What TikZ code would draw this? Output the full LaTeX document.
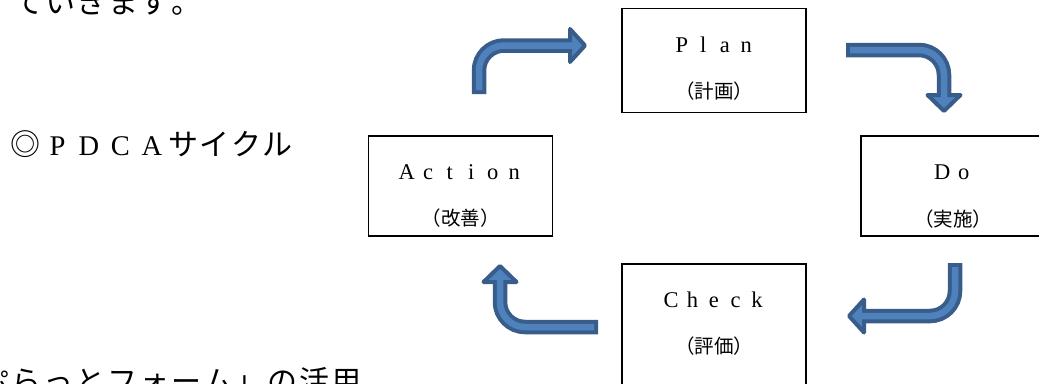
\documentclass[tikz,border=0pt]{standalone}
\usepackage{fontspec}
\setmainfont{Liberation Serif}
\newfontfamily\cjk{Noto Sans CJK JP}
\usepackage{tikz}
\usetikzlibrary{calc}

\definecolor{arrowdark}{RGB}{56,93,138}
\definecolor{arrowlight}{RGB}{79,129,189}

\makeatletter
\newcommand\fw[2]{\@tfor\fw@c:=#2\do{\makebox[#1]{\fw@c}}}
\makeatother

\newcommand\bentarrow[4]{%
  \draw[arrowbody] (#1) -- (#2) -- (#3);
  \filldraw[arrowhead] ($(#3)!16.5pt!90:(#4)$) -- (#4) -- ($(#3)!16.5pt!-90:(#4)$) -- cycle;
  \draw[arrowcore] ($(#1)!4pt!(#2)$) -- (#2) -- ($(#3)!5pt!(#4)$);
}

\begin{document}
\begin{tikzpicture}[x = 1pt, y = -1pt,
    box/.style = {draw, line width = 1.1pt, minimum width = 184pt,
        minimum height = 100pt, inner sep = 0pt},
    boxtitle/.style = {inner sep = 0pt, font = \fontsize{22.5}{22}\selectfont},
    boxsub/.style = {inner sep = 0pt, font = \cjk\fontsize{19.5}{20}\selectfont},
    bodytext/.style = {inner sep = 0pt, anchor = base west,
        font = \cjk\fontsize{30}{30}\selectfont},
    arrowbody/.style = {arrowdark, line width = 14.5pt, rounded corners = 25pt},
    arrowcore/.style = {arrowlight, line width = 6.5pt, rounded corners = 25pt},
    arrowhead/.style = {fill = arrowlight, draw = arrowdark, line width = 4pt,
        line join = round}]
    \useasboundingbox (0, 0) rectangle (1039, 383);

    \node[bodytext] (intro) at (13, 13.5) {\fw{31.5pt}{ていきます。}};
    \node[bodytext] (pdca) at (10, 155) {\fw{31.5pt}{◎}{\rmfamily
        \fontsize{28.5}{30}\selectfont\fw{31.5pt}{PDCA}}\fw{31.5pt}{サイクル}};
    \node[bodytext] (platform) at (-22, 392) {\fw{32pt}{ぷらっとフォーム」の活用}};

    \node[box, minimum height = 104pt] (plan) at (714, 60.5) {};
    \node[box] (do) at (953, 186) {};
    \node[box, minimum height = 130pt] (check) at (714, 329) {};
    \node[box] (action) at (460.5, 186) {};

    \node[boxtitle] (plantitle) at ([yshift = -36.5pt] plan.north) {\fw{21.5pt}{Plan}};
    \node[boxsub] (plansub) at ([yshift = -83pt] plan.north) {（計画）};
    \node[boxtitle] (dotitle) at ([yshift = -37pt] do.north) {\fw{21.5pt}{Do}};
    \node[boxsub] (dosub) at ([yshift = -84pt] do.north) {（実施）};
    \node[boxtitle] (checktitle) at ([yshift = -36.5pt] check.north) {\fw{21.5pt}{Check}};
    \node[boxsub] (checksub) at ([yshift = -83pt] check.north) {（評価）};
    \node[boxtitle] (actiontitle) at ([yshift = -36.5pt] action.north) {\fw{21.5pt}{Action}};
    \node[boxsub] (actionsub) at ([yshift = -82.5pt] action.north) {（改善）};

    \bentarrow{479, 94}{479, 45.5}{570, 45.5}{585, 45.5}
    \bentarrow{846, 50}{944, 50}{944, 95}{944, 111}
    \bentarrow{955, 263}{955, 316}{864, 316}{849, 316}
    \bentarrow{598, 327}{500, 327}{500, 282}{500, 266}
\end{tikzpicture}
\end{document}
